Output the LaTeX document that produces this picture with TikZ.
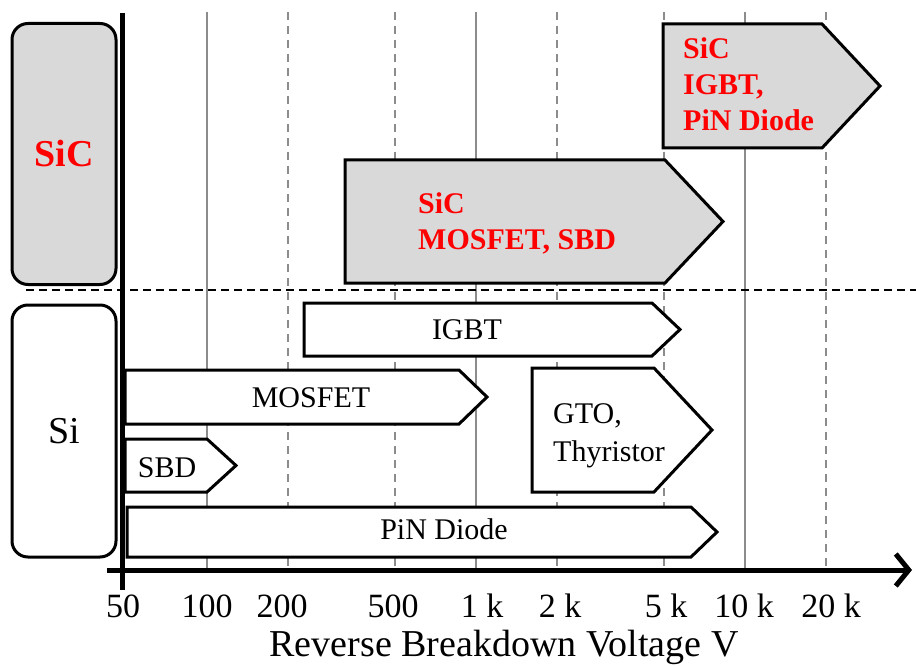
\documentclass[tikz,border=0pt]{standalone}
\usepackage{fontspec}
\setmainfont{Liberation Serif}
\usepackage{tikz}
\usetikzlibrary{arrows.meta}
\usepackage{xcolor}
\definecolor{sicgray}{RGB}{217,217,217}
\definecolor{sicred}{RGB}{255,0,0}
\definecolor{gridgray}{RGB}{140,140,140}
\tikzstyle{axis} = [line width=5pt, black]
\tikzstyle{gridsolid} = [line width=2pt, gridgray]
\tikzstyle{griddash} = [line width=1.6pt, gridgray, dash pattern=on 8pt off 6pt]
\tikzstyle{devsi} = [line width=3pt, fill=white, line join=miter]
\tikzstyle{devsic} = [line width=3pt, fill=sicgray, line join=miter]
\tikzstyle{groupbox} = [draw, line width=3pt, rounded corners=16pt, minimum width=104pt, font=\fontsize{38}{44}\selectfont]
\tikzstyle{silabel} = [font=\fontsize{30}{36}\selectfont, inner sep=0pt, anchor=base]
\tikzstyle{siclabel} = [font=\fontsize{30}{36}\selectfont\bfseries, text=sicred, inner sep=0pt, align=left, anchor=north west]
\tikzstyle{ticklabel} = [font=\fontsize{34}{40}\selectfont, inner sep=0pt, anchor=base]

% pentagon arrow: style, left, top, bottom, shoulder, tip
\newcommand{\devarrow}[6]{\draw[#1] (#2,#3) -- (#5,#3) -- (#6,{(#3+#4)/2}) -- (#5,#4) -- (#2,#4) -- cycle;}

\begin{document}
\begin{tikzpicture}[x=1pt, y=-1pt]
    \useasboundingbox (0,0) rectangle (916,666);

    % Grid
    \foreach \xpos in {207,476,745}
        \draw[gridsolid] (\xpos,12) -- (\xpos,570);
    \foreach \xpos in {288,395,557,664,826}
        \draw[griddash] (\xpos,12) -- (\xpos,570);
    \coordinate (splitl) at (26,290);
    \coordinate (splitr) at (916,290);
    \draw[line width=2pt, dash pattern=on 8pt off 5pt] (splitl) -- (splitr);

    % Groups
    \node[groupbox, fill=sicgray, text=sicred, minimum height=261pt] (sicgroup) at (64,154) {\bfseries SiC};
    \node[groupbox, fill=white, minimum height=252pt] (sigroup) at (64,431) {Si};

    % SiC devices
    \devarrow{devsic}{345}{160}{283}{665}{723}
    \devarrow{devsic}{663}{24}{148}{822}{880}
    \node[siclabel] (sicmos) at (418,192) {SiC\\MOSFET, SBD};
    \node[siclabel] (sicigbt) at (683,37) {SiC\\IGBT,\\PiN Diode};

    % Si devices
    \devarrow{devsi}{304}{303}{356}{652}{680}
    \devarrow{devsi}{125}{370}{424}{459}{487}
    \devarrow{devsi}{125}{439}{492}{207}{236}
    \devarrow{devsi}{127}{507}{557}{691}{717}
    \devarrow{devsi}{532}{368}{492}{654}{712}
    \node[silabel] (igbt) at (467,339) {IGBT};
    \node[silabel] (mosfet) at (311,407) {MOSFET};
    \node[silabel] (sbd) at (167,477) {SBD};
    \node[silabel] (pin) at (444,539) {PiN Diode};
    \node[silabel, font=\fontsize{30}{38}\selectfont, align=left, anchor=north west] (gto) at (553,403) {GTO,\\Thyristor};

    % Axes
    \coordinate (ytop) at (122,13);
    \coordinate (ybot) at (122,590);
    \coordinate (xleft) at (107,570);
    \coordinate (xright) at (912,570);
    \draw[axis] (ytop) -- (ybot);
    \draw[axis, -{Straight Barb[length=13pt, width=32pt]}] (xleft) -- (xright);

    % Labels
    \foreach \xpos/\lab [count=\i] in {123/50, 207/100, 282/200, 393/500, 482/1 k, 560/2 k, 666/5 k, 744/10 k, 831/20 k}
        \node[ticklabel] (tick\i) at (\xpos,617) {\lab};
    \node[font=\fontsize{38}{44}\selectfont, inner sep=0pt, anchor=base] (xtitle) at (504,656) {Reverse Breakdown Voltage V};
\end{tikzpicture}
\end{document}
